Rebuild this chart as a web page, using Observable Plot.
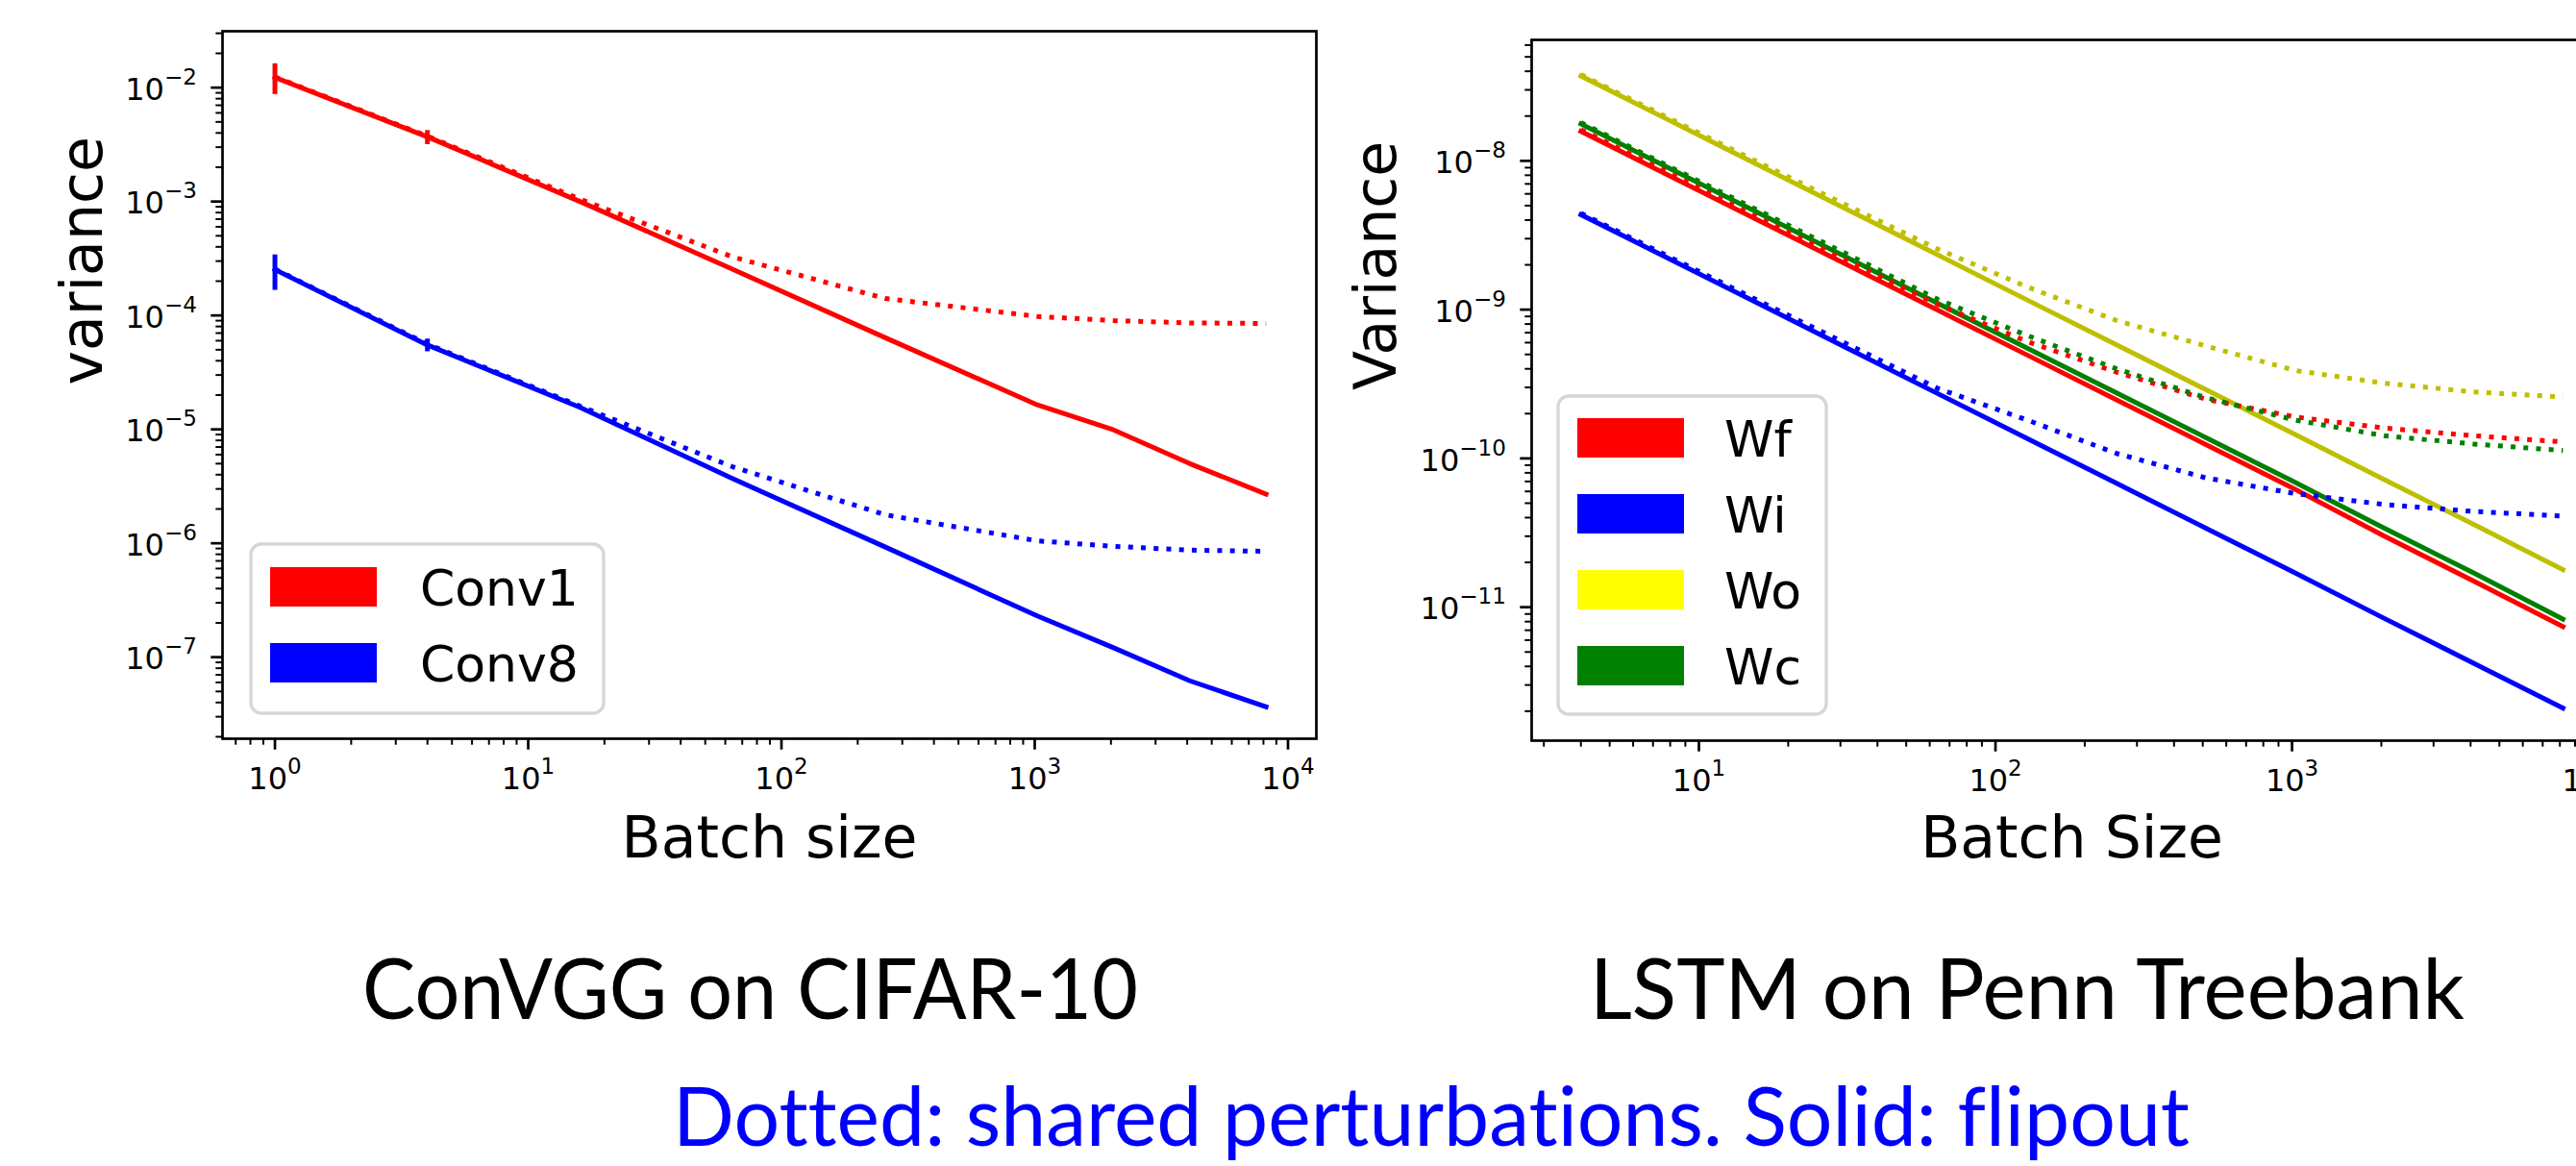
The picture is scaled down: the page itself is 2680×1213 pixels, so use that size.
<!DOCTYPE html>
<html>
<head>
<meta charset="utf-8">
<script src="https://cdn.jsdelivr.net/npm/d3@7"></script>
<script src="https://cdn.jsdelivr.net/npm/@observablehq/plot@0.6"></script>
<style>
html, body { margin: 0; padding: 0; background: #fff; }
body { width: 2680px; height: 1213px; overflow: hidden; position: relative; }
.panel { position: absolute; top: 0; width: 1400px; height: 960px; }
.panel svg { max-width: none !important; }
#overlay { position: absolute; left: 0; top: 0; pointer-events: none; }
#overlay text { font-variant-ligatures: none; font-feature-settings: "liga" 0, "dlig" 0; }
</style>
</head>
<body>
<div id="left" class="panel" style="left:0px"></div>
<div id="right" class="panel" style="left:1340px"></div>
<script>
// ---------- Data: ConVGG on CIFAR-10 ----------
const convBatch = [1, 4, 16, 64, 256, 1024, 2048, 4096, 8192];
const conv1Flipout = [1.23e-2, 3.7e-3, 1.0e-3, 2.55e-4, 6.4e-5, 1.64e-5, 9.9e-6, 5.0e-6, 2.7e-6];
const conv1Shared  = [1.24e-2, 3.75e-3, 1.05e-3, 3.27e-4, 1.41e-4, 9.8e-5, 9.0e-5, 8.6e-5, 8.5e-5];
const conv8Flipout = [2.53e-4, 5.5e-5, 1.56e-5, 3.7e-6, 9.3e-7, 2.3e-7, 1.21e-7, 6.2e-8, 3.66e-8];
const conv8Shared  = [2.55e-4, 5.6e-5, 1.6e-5, 4.7e-6, 1.78e-6, 1.05e-6, 9.4e-7, 8.7e-7, 8.5e-7];
const errBatch = [1, 4];
const conv1ErrLow  = [8.7e-3, 3.16e-3];
const conv1ErrHigh = [1.62e-2, 4.2e-3];
const conv8ErrLow  = [1.66e-4, 4.8e-5];
const conv8ErrHigh = [3.4e-4, 6.2e-5];
const leftLegendLabels = ["Conv1", "Conv8"];
const leftColors = ["#ff0000", "#0000ff"];

// ---------- Data: LSTM on Penn Treebank ----------
const lstmBatch = [4, 8, 16, 32, 64, 128, 256, 512, 1024, 2048, 4096, 8192];
const wfFlipout = [1.58e-8, 7.9e-9, 3.95e-9, 1.98e-9, 9.9e-10, 4.95e-10, 2.47e-10, 1.24e-10, 6.2e-11, 3.0e-11, 1.5e-11, 7.4e-12];
const wiFlipout = [4.35e-9, 2.18e-9, 1.09e-9, 5.45e-10, 2.72e-10, 1.36e-10, 6.8e-11, 3.4e-11, 1.7e-11, 8.4e-12, 4.2e-12, 2.1e-12];
const woFlipout = [3.72e-8, 1.86e-8, 9.3e-9, 4.65e-9, 2.33e-9, 1.16e-9, 5.8e-10, 2.9e-10, 1.45e-10, 7.2e-11, 3.6e-11, 1.79e-11];
const wcFlipout = [1.77e-8, 8.85e-9, 4.43e-9, 2.21e-9, 1.1e-9, 5.5e-10, 2.76e-10, 1.38e-10, 6.9e-11, 3.4e-11, 1.7e-11, 8.3e-12];
const wfShared = [1.62e-8, 8.2e-9, 4.1e-9, 2.1e-9, 1.08e-9, 6.1e-10, 3.8e-10, 2.5e-10, 1.9e-10, 1.6e-10, 1.42e-10, 1.29e-10];
const wiShared = [4.45e-9, 2.25e-9, 1.14e-9, 5.8e-10, 2.95e-10, 1.81e-10, 1.08e-10, 7.4e-11, 5.8e-11, 4.9e-11, 4.4e-11, 4.1e-11];
const woShared = [3.8e-8, 1.92e-8, 9.7e-9, 4.95e-9, 2.55e-9, 1.42e-9, 8.45e-10, 5.7e-10, 3.9e-10, 3.2e-10, 2.8e-10, 2.59e-10];
const wcShared = [1.81e-8, 9.1e-9, 4.6e-9, 2.33e-9, 1.17e-9, 6.7e-10, 4.0e-10, 2.56e-10, 1.81e-10, 1.42e-10, 1.25e-10, 1.13e-10];
const rightLegendLabels = ["Wf", "Wi", "Wo", "Wc"];
const rightPatchColors = ["#ff0000", "#0000ff", "#ffff00", "#008000"];
const rightLineColors = ["#ff0000", "#0000ff", "#bfbf00", "#008000"];

// ---------- Tick values ----------
const leftXTicks = [1, 10, 100, 1000, 10000];
const leftYTicks = [1e-7, 1e-6, 1e-5, 1e-4, 1e-3, 1e-2];
const rightXTicks = [10, 100, 1000, 10000];
const rightYTicks = [1e-11, 1e-10, 1e-9, 1e-8];

// ---------- Text ----------
const leftTitle = "ConVGG on CIFAR-10";
const rightTitle = "LSTM on Penn Treebank";
const caption = "Dotted: shared perturbations. Solid: flipout";

function minorTicks(lo, hi) {
  const out = [];
  for (let e = Math.floor(Math.log10(lo)); e <= Math.ceil(Math.log10(hi)); e++) {
    for (let m = 2; m <= 9; m++) {
      const v = m * Math.pow(10, e);
      if (v >= lo && v <= hi) out.push(v);
    }
  }
  return out;
}
const fmt = d => "10^" + Math.round(Math.log10(d));
const FONT = "DejaVu Sans";

function axes(xd, yd, xt, yt) {
  return [
    Plot.axisX(minorTicks(xd[0], xd[1]), {anchor: "bottom", tickSize: 6.7, strokeWidth: 2, tickFormat: () => "", label: null}),
    Plot.axisY(minorTicks(yd[0], yd[1]), {anchor: "left", tickSize: 6.7, strokeWidth: 2, tickFormat: () => "", label: null}),
    Plot.axisX(xt, {anchor: "bottom", tickSize: 11.7, tickPadding: 18, strokeWidth: 2.7, tickFormat: fmt, fontSize: 32, label: null}),
    Plot.axisY(yt, {anchor: "left", tickSize: 11.7, tickPadding: 15, strokeWidth: 2.7, tickFormat: fmt, fontSize: 32, label: null})
  ];
}

function solid(ys, xs, color) {
  return Plot.line(ys, {x: xs, y: d => d, stroke: color, strokeWidth: 5, strokeLinecap: "square", strokeLinejoin: "round"});
}
function dotted(ys, xs, color) {
  return Plot.line(ys, {x: xs, y: d => d, stroke: color, strokeWidth: 5, strokeDasharray: "5,8.25", strokeLinecap: "butt", strokeLinejoin: "round"});
}

function superscripts(svg) {
  d3.select(svg).selectAll("text").each(function() {
    const m = /^10\^(-?\d+)$/.exec(this.textContent);
    if (!m) return;
    const lab = (this.parentNode.getAttribute("aria-label") || "");
    const sel = d3.select(this);
    if (lab.startsWith("y")) sel.attr("y", "0.4em");
    sel.text("10");
    sel.append("tspan").attr("dy", -16).attr("font-size", 23).text(m[1].replace("-", "\u2212"));
  });
}

const baseStyle = {fontFamily: FONT, fontSize: "32px", color: "black", background: "transparent", maxWidth: "none"};

// ---------- Left chart ----------
const lxd = [Math.pow(10, -0.207), Math.pow(10, 4.112)];
const lyd = [Math.pow(10, -7.716), Math.pow(10, -1.505)];
const leftPlot = Plot.plot({
  width: 1400, height: 960,
  marginLeft: 231, marginRight: 31, marginTop: 32, marginBottom: 192,
  style: baseStyle,
  x: {type: "log", domain: lxd, axis: null},
  y: {type: "log", domain: lyd, axis: null},
  marks: [
    solid(conv1Flipout, convBatch, leftColors[0]),
    dotted(conv1Shared, convBatch, leftColors[0]),
    Plot.ruleX(errBatch, {x: d => d, y1: conv1ErrLow, y2: conv1ErrHigh, stroke: leftColors[0], strokeWidth: 5}),
    solid(conv8Flipout, convBatch, leftColors[1]),
    dotted(conv8Shared, convBatch, leftColors[1]),
    Plot.ruleX(errBatch, {x: d => d, y1: conv8ErrLow, y2: conv8ErrHigh, stroke: leftColors[1], strokeWidth: 5}),
    ...axes(lxd, lyd, leftXTicks, leftYTicks),
    Plot.frame({stroke: "black", strokeWidth: 2.7}),
    Plot.text(["variance"], {frameAnchor: "left", text: d => d, rotate: -90, dx: -126, lineAnchor: "bottom", fontSize: 60}),
    Plot.text(["Batch size"], {frameAnchor: "bottom", text: d => d, dy: 123, lineAnchor: "bottom", fontSize: 60})
  ]
});
superscripts(leftPlot);
document.getElementById("left").appendChild(leftPlot);

// ---------- Right chart ----------
const rxd = [Math.pow(10, 0.436), Math.pow(10, 4.079)];
const ryd = [Math.pow(10, -11.897), Math.pow(10, -7.187)];
const rightShared = [wfShared, wiShared, woShared, wcShared];
const rightFlipout = [wfFlipout, wiFlipout, woFlipout, wcFlipout];
const rightLines = [];
rightFlipout.forEach((s, i) => rightLines.push(solid(s, lstmBatch, rightLineColors[i])));
rightShared.forEach((s, i) => rightLines.push(dotted(s, lstmBatch, rightLineColors[i])));
const rightPlot = Plot.plot({
  width: 1400, height: 960,
  marginLeft: 253, marginRight: 23, marginTop: 41, marginBottom: 190,
  style: baseStyle,
  x: {type: "log", domain: rxd, axis: null},
  y: {type: "log", domain: ryd, axis: null},
  marks: [
    ...rightLines,
    ...axes(rxd, ryd, rightXTicks, rightYTicks),
    Plot.frame({stroke: "black", strokeWidth: 2.7}),
    Plot.text(["Variance"], {frameAnchor: "left", text: d => d, rotate: -90, dx: -142, lineAnchor: "bottom", fontSize: 60}),
    Plot.text(["Batch Size"], {frameAnchor: "bottom", text: d => d, dy: 121, lineAnchor: "bottom", fontSize: 60})
  ]
});
superscripts(rightPlot);
document.getElementById("right").appendChild(rightPlot);

// ---------- Overlay: legends, titles, caption ----------
const ov = d3.select("body").append("svg").attr("id", "overlay").attr("width", 2680).attr("height", 1213);

function legend(x, y, w, h, labels, colors, patchX, textX, firstTop) {
  ov.append("rect").attr("x", x).attr("y", y).attr("width", w).attr("height", h)
    .attr("rx", 11).attr("fill", "#fff").attr("stroke", "#d6d6d6").attr("stroke-width", 3.3);
  labels.forEach((lab, i) => {
    const top = firstTop + i * 79;
    ov.append("rect").attr("x", patchX).attr("y", top).attr("width", 111).attr("height", 41).attr("fill", colors[i]);
    ov.append("text").attr("x", textX).attr("y", top + 40).attr("font-family", FONT).attr("font-size", 52).text(lab);
  });
}
legend(261, 566, 367, 176, leftLegendLabels, leftColors, 281, 437, 590);
legend(1621, 412, 279, 331, rightLegendLabels, rightPatchColors, 1641, 1794, 435);

function title(txt, x, y, len, color, size) {
  ov.append("text").attr("x", x).attr("y", y).attr("font-family", "Lato, 'Open Sans', sans-serif")
    .attr("font-weight", 400).attr("font-size", size).attr("fill", color)
    .attr("textLength", len).attr("lengthAdjust", "spacingAndGlyphs").text(txt);
}
title(leftTitle, 377, 1060, 807, "#000", 88);
title(rightTitle, 1654, 1060, 910, "#000", 88);
title(caption, 700, 1192, 1578, "#0000ff", 86);
</script>
</body>
</html>
